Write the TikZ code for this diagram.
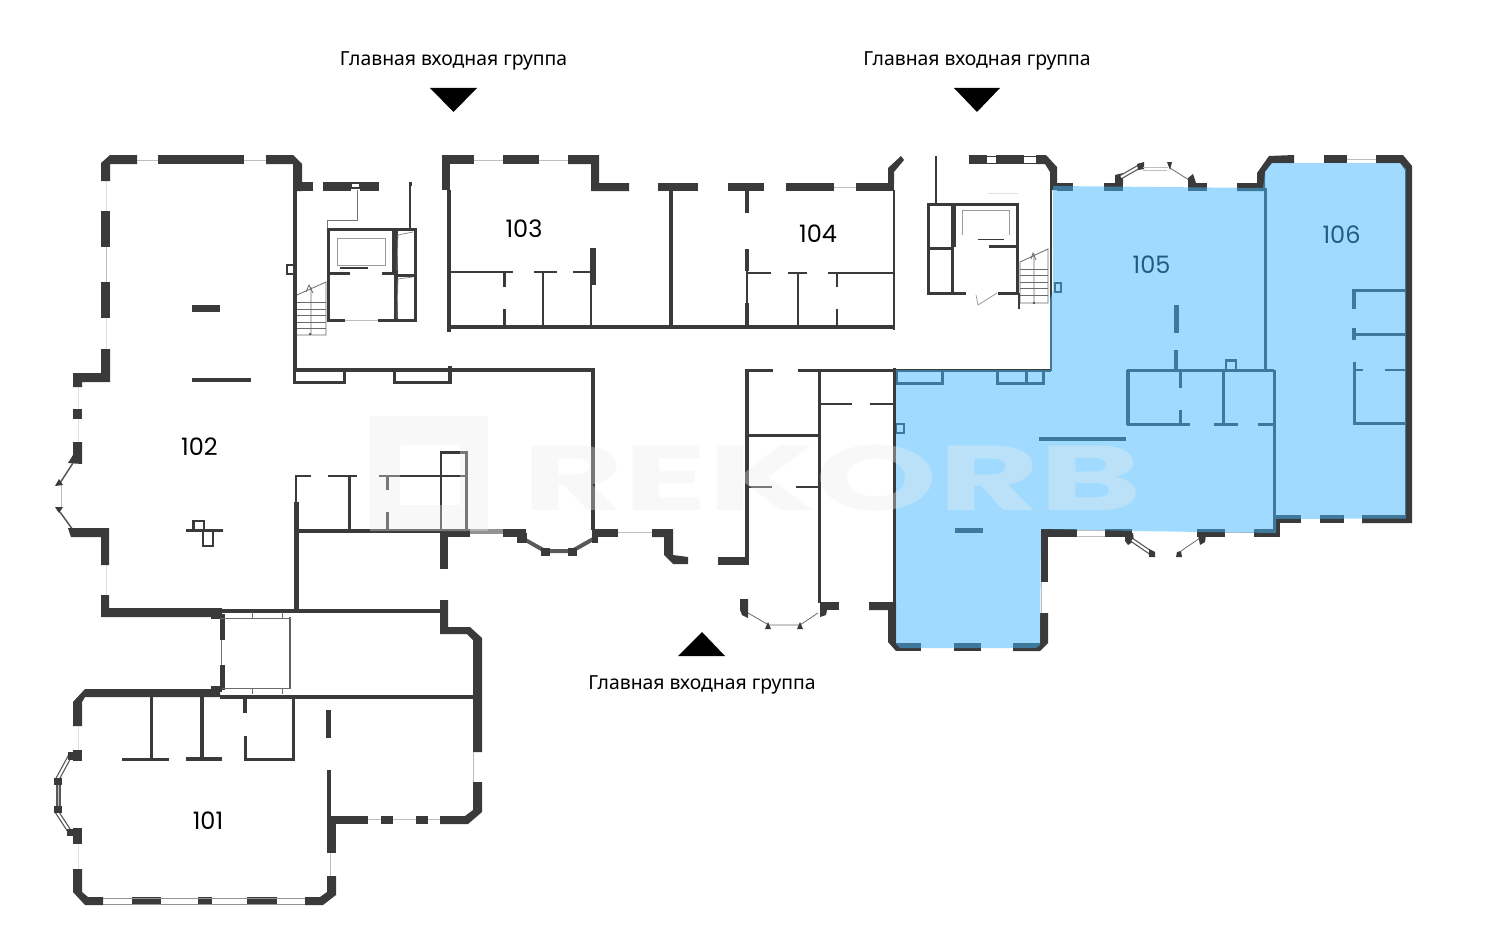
\documentclass[tikz,border=0pt]{standalone}
\usepackage{fontspec}
\setmainfont{Noto Sans}
\newfontfamily\numfont{Poppins}
\newfontfamily\wmfont{Poppins}
\definecolor{wallc}{RGB}{58,58,58}
\definecolor{winc}{RGB}{190,190,190}
\definecolor{blueov}{RGB}{66,185,255}
\definecolor{wmc}{RGB}{237,237,237}
\tikzset{
  wall/.style={draw=wallc,line width=#1pt,line cap=butt,line join=miter},
  win/.style={draw=winc,line width=1pt},
  winl/.style={draw=winc!50,line width=1pt},
  tline/.style={draw=wallc!75,line width=.8pt},
  dbl/.style={draw=wallc!85,line width=#1pt},
  tri/.style={fill=black,draw=none},
  captxt/.style={font=\fontsize{19.4}{21}\selectfont,text=black,inner sep=0pt},
  numtxt/.style={font=\numfont\fontsize{24}{26}\selectfont,text=black,inner sep=0pt},
}
\newcommand{\hw}[4]{\draw[wall=#4] (#1,#3) -- (#2,#3);}
\newcommand{\vw}[4]{\draw[wall=#4] (#1,#2) -- (#1,#3);}
\newcommand{\wb}[4]{\fill[wallc] (#1,#2) rectangle (#3,#4);}
\newcommand{\dwin}[4]{\draw[dbl=4.5] (#1,#2) -- (#3,#4); \draw[draw=white,line width=2pt] (#1,#2) -- (#3,#4);}
\begin{document}
\begin{tikzpicture}[x=1pt,y=-1pt]
\useasboundingbox (0,0) rectangle (1500,950);
\fill[white] (0,0) rectangle (1500,950);
%% thin window lines first
\draw[winl] (106,181)--(106,211) (106,318)--(106,349) (78,387)--(78,409) (78,419)--(78,442)
  (106,565)--(106,595) (78,726)--(78,750) (78,844)--(78,869);
\draw[win] (106,247)--(106,282) (137,160)--(158,160) (244,160)--(266,160)
  (474,160)--(503,160) (539,160)--(568,160) (834,187)--(856,187)
  (618,532)--(652,532) (473,752)--(473,782) (330,853)--(330,876)
  (1168,167)--(1143,167) (1225,532)--(1254,532)
  (1041,582)--(1041,613) (1347,159)--(1376,159);
%% ---- block 102
\fill[wallc] (101,181)--(101,163)--(110,155)--(137,155)--(137,164)--(110,164)--(110,181)--cycle;
\wb{158}{155}{244}{164}
\fill[wallc] (266,155)--(293,155)--(302,164)--(302,191)--(293,191)--(293,164)--(266,164)--cycle;
\wb{101}{211}{110}{247}
\wb{101}{282}{110}{318}
\fill[wallc] (101,349)--(110,349)--(110,382)--(82,382)--(82,387)--(73,387)--(73,373)--(101,373)--cycle;
\wb{73}{409}{82}{419}
\fill[wallc] (73,442)--(82,442)--(82,464)--(68,463)--(73,455)--cycle;
\wb{192}{305}{220}{312}
\wb{192}{378}{251}{382}
\hw{293}{313}{186.5}{9}
\hw{323}{351}{186.5}{9}
\hw{360}{379}{186.5}{9}
\draw[wall=1.5] (351,183) rectangle (360,188);
\vw{295}{190}{372}{4}
\draw[draw=wallc!70,line width=.8pt] (357,190)--(357,220)--(327,220)--(327,228);
\vw{410}{182}{228}{2.5}
\wb{408.5}{182}{411.5}{186}
%% elevator 1
\draw[wall=3] (345,320.5)--(328.5,320.5)--(328.5,229.5)--(415.5,229.5)--(415.5,320.5)--(378,320.5);
\vw{396}{229}{320}{3.5}
\vw{393}{229}{273}{1.5}
\hw{395}{416}{275}{3}
\hw{330}{350}{273}{3}
\hw{382}{395}{273}{3}
\draw[draw=wallc!50,line width=.8pt] (337,265)--(337,238)--(385,238)--(385,265)--(337,265);
\hw{340}{368}{268}{2}
\draw[win] (345,320)--(378,320);
\draw[draw=wallc!60,line width=.7pt] (398,235)--(413,232) (398,235)--(397,270) (398,279)--(413,277) (398,279)--(397,318);
%% stairs 1
\draw[tline] (297,295)--(326,282)--(326,335)--(297,335) (311,287)--(311,335);
\foreach \y in {302,309,315,322,328} {\draw[tline] (297,\y)--(326,\y);}
\draw[tline] (306,292)--(309,285)--(313,293);
\fill[wallc] (310,334) circle (1.2);
\draw[wall=2] (286.5,264.5) rectangle (294,274);
%% corridor upper wall
\hw{293}{593}{370}{3.5}
\draw[wall=3] (294.5,370)--(294.5,382)--(344,382)--(344,370);
\draw[wall=3] (394,370)--(394,382)--(449,382);
\vw{449.5}{366}{384}{4}
\vw{593}{368}{530}{4}
%% lower-left of 102
\vw{296}{475}{503}{2.5}
\vw{296.5}{502}{612}{4.5}
\hw{295}{311}{476}{2.5}
\hw{328}{357}{476}{2.5}
\vw{349.5}{476}{530}{3}
\hw{379}{467}{476}{2.5}
\vw{387}{476}{490}{3}
\vw{387}{512}{530}{3}
\draw[wall=2.5] (441,531)--(441,452.5)--(466.5,452.5)--(466.5,531);
\hw{294}{470}{531}{4}
\wb{440}{529}{470}{537}
\fill[wallc] (440,531) rectangle (448,569);
\fill[wallc!55] (470,529) rectangle (503,533.5);
\wb{503}{529}{526}{537}
\wb{592}{529}{618}{537}
\fill[wallc] (652,529)--(673,529)--(673,555)--(688,557)--(688,564)--(673,564)--(664,555)--(664,537)--(652,537)--cycle;
\wb{718}{557}{749}{565}
\vw{747}{368.5}{558}{3.5}
\hw{747}{773}{370}{3}
\hw{798}{894}{370}{3}
\vw{819.5}{370}{603}{3.5}
\hw{820}{852}{404}{2.5}
\hw{870}{894}{404}{2.5}
\hw{747}{819}{435}{3}
\hw{748}{772}{487}{2}
\hw{796}{819}{487}{2}
%% bay 102
\draw[dbl=1.5] (73,463)--(60,483) (60,512)--(73,530);
\draw[win] (61,483)--(61,508);
\fill[wallc] (55,486)--(59,479)--(63,485)--cycle;
\fill[wallc] (55,507)--(63,507)--(59,513)--cycle;
\fill[wallc] (68,528)--(109,528)--(109,565)--(101,565)--(101,537)--(71,537)--cycle;
%% cross
\hw{186}{223}{530}{3}
\draw[wall=2.5] (193.5,530)--(193.5,521)--(204,521)--(204,530);
\draw[wall=2.5] (203,530)--(203,546)--(213,546)--(213,530);
%% bottom of 102
\fill[wallc] (101,595)--(109,595)--(109,608)--(222,608)--(222,617)--(101,617)--cycle;
\hw{220}{440}{610.5}{4}
%% shaft
\fill[wallc] (211,614) rectangle (225,619);
\vw{222.5}{617}{640}{5}
\vw{222.5}{665}{690}{5}
\draw[draw=wallc!70,line width=1pt] (221,640)--(221,665);
\draw[draw=wallc!80,line width=1.6pt] (290,617)--(290,688);
\draw[tline] (220,618)--(291,618) (252,612)--(252,618) (282,612)--(282,618);
\draw[tline] (220,688)--(291,688) (252,688)--(252,694) (282,688)--(282,694);
%% 101 upper and right
\fill[wallc] (73,726)--(73,702)--(85,689)--(220,689)--(220,697)--(85,697)--(82,702)--(82,726)--cycle;
\wb{211}{686}{222}{692}
\hw{220}{473}{696.5}{4}
\fill[wallc] (440,600)--(448,600)--(448,627)--(470,627)--(482,638)--(482,752)--(473,752)--(473,640)--(467,634)--(440,634)--cycle;
\fill[wallc] (473,782)--(482,782)--(482,812)--(468,824)--(440,824)--(440,816)--(465,816)--(473,810)--cycle;
\wb{416}{816}{428}{824}
\wb{381}{816}{393}{824}
\wb{332}{816}{368}{824}
\draw[win] (368,819)--(381,819) (393,819)--(416,819) (428,819)--(440,819);
\vw{328.5}{770}{817}{4}
\wb{327}{816}{336}{853}
\fill[wallc] (327,876)--(336,876)--(336,895)--(323,905)--(305,905)--(305,897)--(320,897)--(327,892)--cycle;
\wb{247}{897}{277}{905}
\wb{198}{897}{212}{905}
\wb{132}{897}{161}{905}
\fill[wallc] (73,869)--(82,869)--(82,892)--(88,897)--(103,897)--(103,905)--(85,905)--(73,892)--cycle;
\draw[draw=wallc!55,line width=1pt] (103,898)--(305,898) (103,904)--(305,904);
\vw{328.5}{710}{738}{5}
%% 101 inner
\vw{151}{696}{760}{3}
\vw{202}{696}{760}{4}
\hw{122}{169}{759}{3}
\hw{186}{222}{759}{3.5}
\vw{245}{697}{713}{3.5}
\draw[wall=3] (245,736)--(245,759.5)--(293,759.5)--(293,696);
%% bay 101
\wb{73}{750}{82}{761}
\wb{73}{828}{82}{844}
\dwin{70}{756}{57}{780}
\dwin{57}{812}{70}{832}
\draw[dbl=4.5] (58.5,784)--(58.5,808); \draw[draw=winc,line width=1.5pt] (58.5,784)--(58.5,808);
\fill[wallc] (54,778) rectangle (62,785);
\fill[wallc] (54,806) rectangle (62,813);
\fill[wallc] (68,752) rectangle (76,760);
\fill[wallc] (67,829) rectangle (76,836);
%% block 103/104
\wb{442}{155}{474}{164}
\wb{442}{155}{450}{190}
\wb{503}{155}{539}{164}
\fill[wallc] (568,155)--(599,155)--(599,183)--(629,183)--(629,191)--(591,191)--(591,164)--(568,164)--cycle;
\wb{658}{183}{698}{191}
\wb{728}{183}{764}{191}
\wb{786}{183}{834}{191}
\wb{856}{183}{894}{191}
\fill[wallc] (888,183)--(888,168)--(901,156)--(904,160)--(894,172)--(894,183)--cycle;
\vw{449}{190}{332}{4}
\hw{449}{894}{327}{3.5}
\vw{893.5}{190}{330}{2}
\vw{671}{191}{327}{4}
\vw{747}{191}{213}{4}
\vw{747}{249}{271}{4}
\vw{747}{271}{303}{2.5}
\vw{747}{303}{327}{4}
\hw{450}{513}{272}{2.5}
\hw{534}{557}{272}{2.5}
\hw{573}{593}{272}{2.5}
\vw{504}{272}{287}{3}
\vw{504}{309}{327}{3}
\vw{543}{272}{327}{2.5}
\vw{591}{272}{327}{2}
\vw{593}{248}{285}{6}
\hw{747}{771}{273}{2.5}
\hw{788}{807}{273}{2.5}
\hw{828}{894}{273}{2.5}
\vw{798}{273}{327}{2.5}
\vw{837}{273}{287}{2.5}
\vw{837}{309}{327}{2.5}
%% central bay
\draw[dbl=4] (520,537)--(545,551)--(572,551)--(595,538);
\draw[draw=white,line width=1pt] (522,541)--(544,554) (574,554)--(594,542);
\fill[wallc] (517,533) rectangle (527,543);
\fill[wallc] (541,548) rectangle (550,556);
\fill[wallc] (568,548) rectangle (577,556);
\fill[wallc] (592,535) rectangle (598,543);
%% lower bay
\wb{820}{602}{839}{610}
\fill[wallc] (820,610)--(827,610)--(826,615)--(820,617)--cycle;
\draw[tline] (818,613)--(800,625) (800,625)--(768,625) (767,624)--(748,613);
\fill[wallc] (797,629)--(803,629)--(800,622)--cycle;
\fill[wallc] (765,629)--(771,629)--(768,622)--cycle;
\fill[wallc] (740,599)--(748,599)--(748,618)--(742,615)--(740,610)--cycle;
\fill[wallc] (869,602)--(896,602)--(896,651)--(888,642)--(888,610)--(869,610)--cycle;
%% upper right white block
\wb{969}{155}{987}{164}
\wb{996}{155}{1024}{164}
\fill[wallc] (1036,155)--(1046,155)--(1057,167)--(1057,190)--(1050,190)--(1050,172)--(1045,164)--(1036,164)--cycle;
\draw[wall=1] (987,156) -- (996,156) (987,163)--(996,163) (1024,156)--(1036,156) (1024,163)--(1036,163);
\vw{936}{156}{204}{2.5}
\vw{1051}{190}{371}{2.5}
\draw[wall=3] (966,293)--(928,293)--(928,204.5)--(1017.5,204.5)--(1017.5,293)--(998,293);
\vw{952}{204}{293}{3}
\vw{955}{205}{247}{2}
\hw{927}{952}{248}{3}
\hw{989}{1017}{246}{3}
\draw[draw=wallc!50,line width=.8pt] (962,235)--(962,210)--(1009,210)--(1009,235);
\hw{978}{1004}{239.5}{1.5}
\draw[draw=wallc!55,line width=.7pt] (976,295)--(978,305)--(997,293);
\draw[winl] (988,193)--(1018,193);
%% stairs 2
\draw[tline] (1020,262)--(1048,249)--(1048,303)--(1020,303) (1034,254)--(1034,303) (1020,262)--(1020,303);
\foreach \y in {269,275,282,288,295} {\draw[tline] (1020,\y)--(1048,\y);}
\draw[tline] (1031,259)--(1033,253)--(1036,260);
\vw{1019}{293}{309}{2}
\fill[wallc] (1034,303) circle (1.2);
\draw[wall=2] (1054.5,282.5) rectangle (1061,292);
%% 105 top
\wb{1057}{183}{1073}{191}
\wb{1104}{183}{1123}{191}
\fill[wallc] (1115,175)--(1123,173)--(1123,183)--(1115,183)--cycle;
\dwin{1121}{177}{1142}{165}
\fill[wallc] (1137,164)--(1144,162)--(1144,169)--(1138,170)--cycle;
\fill[wallc] (1167,162)--(1172,162)--(1170,170)--cycle;
\draw[tline] (1170,168)--(1189,180);
\wb{1188}{183}{1207}{191}
\fill[wallc] (1188,178)--(1193,174)--(1196,183)--(1188,183)--cycle;
\draw[win] (1143,167.5)--(1167,167.5) (1143,170)--(1167,170);
\fill[wallc] (1237,183)--(1257,183)--(1257,173)--(1269,156)--(1294,155)--(1294,163)--(1272,163)--(1265,172)--(1265,191)--(1237,191)--cycle;
\wb{1324}{155}{1347}{163}
\fill[wallc] (1376,155)--(1403,155)--(1412,166)--(1412,523)--(1362,523)--(1362,515)--(1405,515)--(1405,170)--(1400,163)--(1376,163)--cycle;
\wb{1320}{515}{1344}{523}
\wb{1275}{515}{1301}{523}
\wb{1273}{515}{1280}{537}
\wb{1254}{529}{1280}{537}
\wb{1197}{529}{1225}{537}
\wb{1105}{529}{1132}{537}
\wb{1041}{529}{1077}{537}
\draw[win] (1077,530)--(1105,530) (1077,536)--(1105,536);
\vw{1265.5}{188}{371}{3}
\vw{1274.5}{370}{520}{3}
\wb{1041}{529}{1048}{582}
\fill[wallc] (1040,613)--(1048,613)--(1048,643)--(1040,651)--(1013,651)--(1013,643)--(1040,643)--cycle;
\wb{954}{643}{981}{651}
\wb{896}{643}{921}{651}
\vw{894}{368}{604}{3}
%% 105 inner
\draw[wall=3] (896,370)--(896,383)--(942,383)--(942,370);
\draw[wall=3] (997,370)--(997,383)--(1043,383)--(1043,370);
\vw{1026}{370}{383}{3}
\hw{894}{1051}{370}{3}
\draw[wall=2] (896,423.5) rectangle (904,433);
\wb{955}{528}{983}{533}
\hw{1039}{1126}{438.5}{4}
\hw{1127}{1274}{370.5}{3.5}
\vw{1128}{370}{425}{3.5}
\hw{1127}{1190}{424}{3}
\hw{1214}{1238}{424}{3}
\hw{1258}{1273}{424}{3}
\vw{1180}{370}{388}{3}
\vw{1180}{410}{424}{3}
\vw{1223}{370}{424}{3}
\draw[wall=2.5] (1226,370)--(1226,360.5)--(1236,360.5)--(1236,370);
\vw{1176}{305}{333}{5}
\vw{1176}{350}{370}{4}
%% 106 inner
\draw[wall=3.5] (1354,309)--(1354,290.5)--(1405,290.5);
\vw{1354}{328}{340}{3.5}
\hw{1354}{1405}{334}{3}
\draw[wall=3] (1354,362)--(1354,423.5)--(1405,423.5);
\hw{1354}{1363}{370}{2.5}
\hw{1385}{1405}{370}{2.5}
%% bay 105 bottom
\fill[wallc] (1125,533)--(1133,533)--(1134,541)--(1128,545)--(1125,541)--cycle;
\dwin{1132}{540}{1151}{553}
\fill[wallc] (1149,549)--(1155,552)--(1155,557)--(1149,557)--cycle;
\fill[wallc] (1176,557)--(1182,557)--(1181,551)--(1177,552)--cycle;
\draw[tline] (1181,551)--(1200,538);
\fill[wallc] (1198,535)--(1206,535)--(1205,542)--(1200,545)--cycle;
%% triangles
\fill[tri] (430,88)--(477,88)--(453.5,112)--cycle;
\fill[tri] (954,88)--(1000,88)--(977,112)--cycle;
\fill[tri] (678,656)--(725,656)--(702,632)--cycle;
%% texts
\node[captxt] (c1) at (453.5,61) {Главная входная группа};
\node[captxt] (c2) at (977,61) {Главная входная группа};
\node[captxt] (c3) at (702,685) {Главная входная группа};
\node[numtxt] (n101) at (208,821) {101};
\node[numtxt] (n102) at (199.5,447) {102};
\node[numtxt] (n103) at (524,229) {103};
\node[numtxt] (n104) at (818,234) {104};
\node[numtxt] (n105) at (1151.5,265) {105};
\node[numtxt] (n106) at (1341.5,235) {106};
%% blue overlay
\fill[blueov,fill opacity=.5] (1053,186)--(1263,188)--(1265,172)--(1272,163)--(1400,163)--(1406,169)--(1406,518.5)--(1276,519)--(1276,533)--(1134,531)--(1041,529)--(1040,645)--(1036,648)--(900,648)--(896,644)--(896,370)--(1050,370)--(1050,300)--(1053,290)--cycle;
%% watermark
\fill[wmc,fill opacity=.35,even odd rule] (370,416) rectangle (488,531) (400,445) rectangle (460,505);
\node[inner sep=0pt,text=wmc,text opacity=.35,font=\wmfont\bfseries\fontsize{92}{92}\selectfont,xscale=1.69,anchor=center] (wm) at (832,478) {REKORB};
\end{tikzpicture}
\end{document}
